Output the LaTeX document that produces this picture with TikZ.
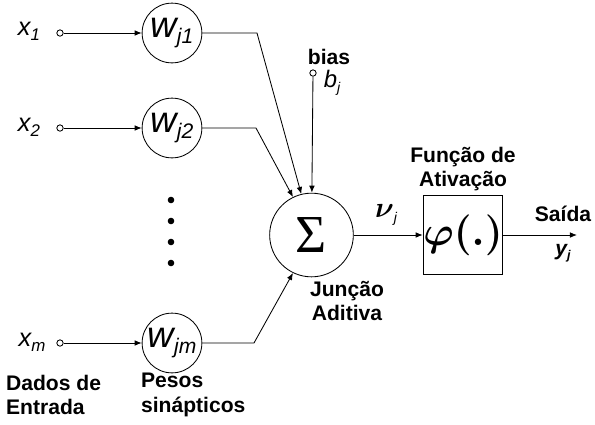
\documentclass[tikz,border=0pt]{standalone}
\usepackage{fontspec}
\setmainfont{Liberation Sans}
\newfontfamily\serifgreek{Liberation Serif}
\usetikzlibrary{arrows.meta}

\newcommand{\varsub}[4]{{\fontsize{#1}{#1}\selectfont\itshape #3\raisebox{-0.35ex}{\fontsize{#2}{#2}\selectfont #4}}}
\newcommand{\phibox}{\scalebox{1.4}{\fontsize{20}{20}\selectfont\boldmath$\varphi(.)$}}
\newcommand{\nulabel}{\mbox{\fontsize{20}{20}\selectfont\boldmath$\nu$\raisebox{-0.35ex}{\fontsize{10}{10}\selectfont\itshape j}}}

\tikzset{
    peso/.style={draw, circle, minimum size=42.5pt, inner sep=0pt},
    entrada/.style={draw, circle, minimum size=4.5pt, inner sep=0pt, fill=white},
    rotulo/.style={font=\fontsize{15}{17.7}\selectfont\bfseries},
    seta/.style={-{Latex[length=5pt,width=4pt]}}
}

\begin{document}
\begin{tikzpicture}[x=0.025cm, y=-0.025cm, line width=0.6pt]
        \useasboundingbox (0,0) rectangle (595,424);

        % Entradas
        \node (lx1) at (29,31) {\varsub{18}{12}{x}{1}};
        \node (lx2) at (29,127) {\varsub{18}{12}{x}{2}};
        \node (lxm) at (32,342) {\varsub{18}{12}{x}{m}};
        \node[entrada] (in1) at (60,33) {};
        \node[entrada] (in2) at (60,128) {};
        \node[entrada] (inm) at (60,343) {};

        % Pesos sinapticos
        \node[peso] (w1) at (172,33) {\varsub{26}{15}{w}{j1}};
        \node[peso] (w2) at (172,128) {\varsub{26}{15}{w}{j2}};
        \node[peso] (wm) at (172,343) {\varsub{26}{15}{w}{jm}};
        \draw[seta] (in1) -- (w1);
        \draw[seta] (in2) -- (w2);
        \draw[seta] (inm) -- (wm);

        % Pontos
        \foreach \y in {200,221,242,263}
            \fill (171,\y) circle (3.3);

        % Juncao aditiva
        \node[draw, circle, minimum size=59.5pt, inner sep=0pt] (sum) at (311.5,235)
            {\serifgreek\fontsize{38}{38}\selectfont Σ};
        \coordinate (k1) at (257,33);
        \coordinate (k2) at (256,128);
        \coordinate (km) at (254,343);
        \draw[seta] (w1) -- (k1) -- (sum.104);
        \draw[seta] (w2) -- (k2) -- (sum.116);
        \draw[seta] (wm) -- (km) -- (sum.244);

        % Bias
        \node[rotulo] (bias) at (329,57) {bias};
        \node[entrada] (inb) at (313,73) {};
        \node (lb) at (332,83) {\varsub{17}{10}{b}{j}};
        \draw[seta] (inb) -- (sum);

        % Funcao de ativacao
        \node[draw, minimum size=56.7pt, inner sep=0pt] (phi) at (463,235) {\phibox};
        \node[rotulo, align=center] (lphi) at (463,169) {Função de\\Ativação};
        \node (lv) at (386,215) {\nulabel};
        \draw[seta] (sum.east |- phi.west) -- (phi.west);

        % Saida
        \coordinate (out) at (577,235);
        \draw[seta] (phi) -- (out);
        \node[rotulo] (lsaida) at (563,214) {Saída};
        \node (ly) at (563,253) {\bfseries\varsub{15}{9}{y}{j}};

        % Legendas
        \node[rotulo, align=left, anchor=west] (ldados) at (1,395) {Dados de\\Entrada};
        \node[rotulo, align=left, anchor=west] (lpesos) at (136,395) {Pesos\\sinápticos};
        \node[rotulo, align=center] (lsoma) at (347,301) {Junção\\Aditiva};

    \end{tikzpicture}
\end{document}
